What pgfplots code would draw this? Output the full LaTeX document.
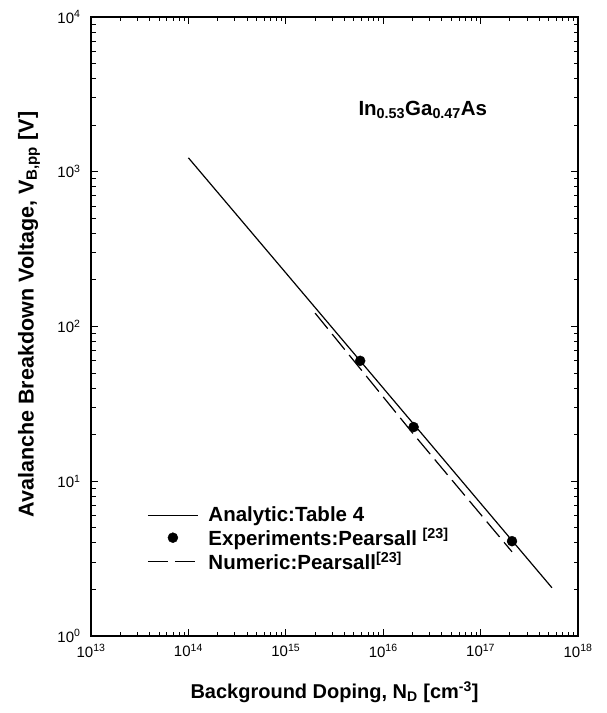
\documentclass[border=0pt]{standalone}
\usepackage{pgfplots}
\pgfplotsset{compat=1.18}
\usepackage{fontspec}
\setmainfont{Liberation Sans}

\pgfplotsset{
    longline/.style={legend image code/.code={\draw[##1] (0pt,0pt) -- (50pt,0pt); \path (58pt,0pt);}},
    bigdot/.style={legend image code/.code={\fill (25pt,0pt) circle (5pt); \path (0pt,0pt) (58pt,0pt);}},
}

\begin{document}
\begin{tikzpicture}
\begin{loglogaxis}[
    scale only axis,
    width=487pt, height=619pt,
    xmin=1e13, xmax=1e18,
    ymin=1, ymax=1e4,
    xtick={1e13,1e14,1e15,1e16,1e17,1e18},
    xticklabels={10\textsuperscript{13},10\textsuperscript{14},10\textsuperscript{15},10\textsuperscript{16},10\textsuperscript{17},10\textsuperscript{18}},
    ytick={1,10,100,1000,10000},
    yticklabels={10\textsuperscript{0},10\textsuperscript{1},10\textsuperscript{2},10\textsuperscript{3},10\textsuperscript{4}},
    tick label style={font=\fontsize{15}{17}\selectfont},
    xticklabel style={yshift=-5pt},
    yticklabel style={xshift=-7pt},
    xlabel={Background Doping, N\textsubscript{D} [cm\textsuperscript{-3}]},
    ylabel={Avalanche Breakdown Voltage, V\textsubscript{B,pp} [V]},
    xlabel style={font=\bfseries\fontsize{20}{23}\selectfont,
        anchor=center, at={([yshift=-56pt]rel axis cs:0.5,0)}},
    ylabel style={font=\bfseries\fontsize{21.5}{24}\selectfont,
        anchor=center, at={([xshift=-62pt,yshift=12pt]rel axis cs:0,0.5)}},
    axis line style={line width=1.3pt},
    major tick length=7pt, minor tick length=4.5pt,
    every tick/.style={black, line width=0.9pt},
    legend style={at={(rel axis cs:0.109,0.215)}, anchor=north west,
        draw=none, fill=none, row sep=0.5pt,
        font=\bfseries\fontsize{20.5}{23}\selectfont},
    legend cell align=left,
]
% analytic model, Table 4
\addplot[black, line width=1.2pt, longline]
    coordinates {(1e14,1230) (1e15,222) (1e16,40) (1e17,7.2) (5.4e17,2.05)};
\addlegendentry{Analytic:Table 4}
% Pearsall experiments
\addplot[only marks, mark=*, mark size=5pt, black, bigdot]
    coordinates {(5.8e15,60) (2.05e16,22.4) (2.1e17,4.1)};
\addlegendentry{Experiments:Pearsall \textsuperscript{[23]}}
% Pearsall numeric
\addplot[black, line width=1.2pt, dash pattern=on 20pt off 7pt, longline]
    coordinates {(2e15,122) (2e16,20.5) (2.1e17,3.5)};
\addlegendentry{Numeric:Pearsall\textsuperscript{[23]}}
\node[anchor=west, font=\bfseries\fontsize{20.5}{23}\selectfont]
    at (rel axis cs:0.542,0.85) {In\textsubscript{0.53}Ga\textsubscript{0.47}As};
\end{loglogaxis}
\pgfresetboundingbox
\path ([xshift=-91pt,yshift=-77pt]current axis.south west)
    rectangle ([xshift=28pt,yshift=17pt]current axis.north east);
\end{tikzpicture}
\end{document}
